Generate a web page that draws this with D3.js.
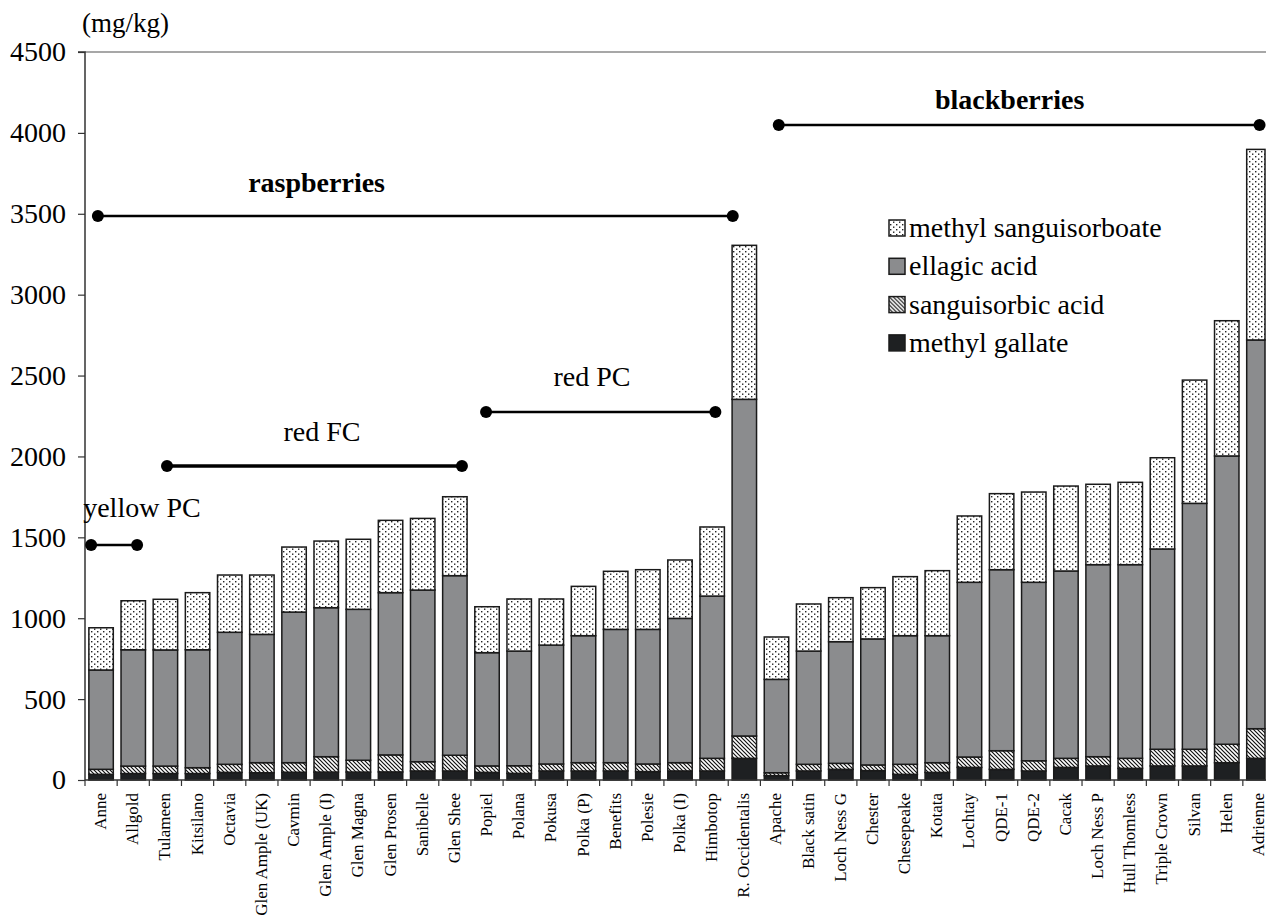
<!DOCTYPE html>
<html>
<head>
<meta charset="utf-8">
<script src="https://cdn.jsdelivr.net/npm/d3@7"></script>
<style>
  html, body { margin: 0; padding: 0; background: #fff; }
  svg { display: block; }
  svg text { font-family: "Liberation Serif", "Times New Roman", serif; }
</style>
</head>
<body>
<svg id="chart" width="1272" height="923"></svg>
<script>
// ---------- data ----------
const categories = ["Anne","Allgold","Tulameen","Kitsilano","Octavia","Glen Ample (UK)","Cavmin","Glen Ample (I)","Glen Magna","Glen Prosen","Sanibelle","Glen Shee","Popiel","Polana","Pokusa","Polka (P)","Benefits","Polesie","Polka (I)","Himbotop","R. Occidentalis","Apache","Black satin","Loch Ness G","Chester","Chesepeake","Kotata","Lochtay","QDE-1","QDE-2","Cacak","Loch Ness P","Hull Thomless","Triple Crown","Silvan","Helen","Adrienne"];

const methylGallate = [35,40,40,40,47,45,48,49,49,50,56,56,47,41,56,56,56,52,56,56,134,27,56,66,58,35,47,78,66,56,78,87,72,87,87,107,134];
const sanguisorbicAcid = [31,46,46,36,50,62,59,95,73,105,57,97,40,47,43,51,51,47,51,78,138,18,41,37,35,62,60,64,115,63,56,57,62,103,103,114,183];
const ellagicAcid = [614,719,718,729,816,793,931,921,933,1003,1061,1110,700,709,735,785,824,832,892,1003,2081,577,700,752,779,795,785,1080,1119,1103,1158,1187,1197,1238,1520,1782,2403];
const methylSanguisorboate = [261,303,313,353,354,367,402,412,433,447,443,488,284,322,285,305,359,369,361,427,952,262,291,272,317,365,402,410,470,558,525,497,509,564,762,836,1178];

const seriesNames = ["methyl gallate","sanguisorbic acid","ellagic acid","methyl sanguisorboate"];
const yTicks = [0,500,1000,1500,2000,2500,3000,3500,4000,4500];

// group annotations: from/to in category-index units, level & labelLevel in mg/kg
const groupLabels = ["raspberries","blackberries","red PC","red FC","yellow PC"];
const groupFrom   = [-0.1, 21.07, 11.97, 2.05, -0.31];
const groupTo     = [19.64, 36.02, 19.1, 11.22, 1.12];
const groupLevel  = [3486, 4049, 2275, 1941, 1453];
const groupLabelX = [6.7, 28.25, 15.26, 6.87, 1.27];
const groupLabelLevel = [3634, 4148, 2435, 2095, 1626];
const groupBold   = [true, true, false, false, false];

// ---------- layout ----------
const FONT = "Liberation Serif, Times New Roman, serif";
const svg = d3.select("#chart");
const mLeft = 85, plotRight = 1266, fullRight = 1275, mTop = 52, mBottom = 780;

const x = d3.scaleBand().domain(categories).range([mLeft, fullRight]).paddingInner(0.24).paddingOuter(0.12);
const xi = d3.scaleLinear().domain([-0.5, categories.length - 0.5]).range([mLeft, fullRight]);
const y = d3.scaleLinear().domain([0, 4500]).range([mBottom, mTop]);

// patterns
const defs = svg.append("defs");
const dots = defs.append("pattern").attr("id","dots").attr("patternUnits","userSpaceOnUse").attr("width",6).attr("height",5);
dots.append("rect").attr("width",6).attr("height",5).attr("fill","#fff");
dots.append("rect").attr("x",1).attr("y",1).attr("width",1.4).attr("height",1.4).attr("fill","#222");
dots.append("rect").attr("x",4).attr("y",3.5).attr("width",1.4).attr("height",1.4).attr("fill","#222");

const hatch = defs.append("pattern").attr("id","hatch").attr("patternUnits","userSpaceOnUse").attr("width",4).attr("height",4);
hatch.append("rect").attr("width",4).attr("height",4).attr("fill","#fff");
hatch.append("path").attr("d","M0,0 L4,4 M-1,3 L1,5 M3,-1 L5,1").attr("stroke","#111").attr("stroke-width",1.2);

const fills = {
  "methyl gallate": "#1e2022",
  "sanguisorbic acid": "url(#hatch)",
  "ellagic acid": "#8b8c8e",
  "methyl sanguisorboate": "url(#dots)"
};

// stacked data
const table = categories.map((c, i) => ({
  cat: c,
  "methyl gallate": methylGallate[i],
  "sanguisorbic acid": sanguisorbicAcid[i],
  "ellagic acid": ellagicAcid[i],
  "methyl sanguisorboate": methylSanguisorboate[i]
}));
const stacked = d3.stack().keys(seriesNames)(table);

// top border line of plot area
svg.append("line").attr("x1", mLeft).attr("x2", plotRight).attr("y1", y(4500)).attr("y2", y(4500))
  .attr("stroke", "#8a8a8a").attr("stroke-width", 1.5);

// bars
const g = svg.append("g");
stacked.forEach(layer => {
  g.selectAll(null).data(layer).enter().append("rect")
    .attr("x", d => x(d.data.cat))
    .attr("width", d => Math.min(x(d.data.cat) + x.bandwidth(), plotRight - 1) - x(d.data.cat))
    .attr("y", d => y(d[1]))
    .attr("height", d => y(d[0]) - y(d[1]))
    .attr("fill", fills[layer.key])
    .attr("stroke", "#1a1a1a")
    .attr("stroke-width", 1.5);
});

// y axis
const yAxis = d3.axisLeft(y).tickValues(yTicks).tickSize(7).tickPadding(12).tickFormat(d3.format("d"));
const ya = svg.append("g").attr("transform", `translate(${mLeft},0)`).call(yAxis)
  .attr("font-family", FONT).attr("font-size", 28);
ya.select(".domain").attr("stroke", "#333").attr("stroke-width", 1.5).attr("d", `M-7,${mTop}H0V${mBottom}`);
ya.selectAll(".tick line").attr("stroke", "#333").attr("stroke-width", 1.2);
ya.selectAll(".tick text").attr("font-size", 28).attr("fill", "#000").attr("font-family", FONT);

// x axis
const xa = svg.append("g").attr("font-family", FONT);
xa.append("line").attr("x1", mLeft).attr("x2", plotRight).attr("y1", mBottom).attr("y2", mBottom)
  .attr("stroke", "#333").attr("stroke-width", 1.5);
const boundaries = d3.range(0, categories.length).map(i => xi(i - 0.5));
xa.selectAll(null).data(boundaries).enter().append("line")
  .attr("x1", d => d).attr("x2", d => d).attr("y1", mBottom).attr("y2", mBottom + 6)
  .attr("stroke", "#333").attr("stroke-width", 1.2);
xa.selectAll(null).data(categories).enter().append("text")
  .attr("transform", d => `translate(${x(d) + x.bandwidth() / 2 + 5},${mBottom + 13}) rotate(-90)`)
  .attr("text-anchor", "end")
  .attr("font-size", 17)
  .attr("font-family", FONT)
  .attr("fill", "#000")
  .text(d => d);

// unit label
svg.append("text").attr("x", 82).attr("y", 32).attr("font-size", 27).attr("font-family", FONT).attr("fill", "#000").text("(mg/kg)");

// group annotations
groupLabels.forEach((lab, i) => {
  const x1 = xi(groupFrom[i]), x2 = xi(groupTo[i]), yy = y(groupLevel[i]);
  svg.append("line").attr("x1", x1).attr("x2", x2).attr("y1", yy).attr("y2", yy)
    .attr("stroke", "#000").attr("stroke-width", lab === "red FC" ? 3.5 : 2.5);
  [x1, x2].forEach(cx => svg.append("circle").attr("cx", cx).attr("cy", yy).attr("r", 6).attr("fill", "#000"));
  svg.append("text").attr("x", xi(groupLabelX[i])).attr("y", y(groupLabelLevel[i]))
    .attr("text-anchor", "middle").attr("font-size", 28).attr("font-family", FONT)
    .attr("font-weight", groupBold[i] ? "bold" : "normal")
    .attr("fill", "#000").text(lab);
});

// legend
const legendOrder = ["methyl sanguisorboate","ellagic acid","sanguisorbic acid","methyl gallate"];
const lg = svg.append("g").attr("transform", "translate(889,228)");
legendOrder.forEach((name, i) => {
  const row = lg.append("g").attr("transform", `translate(0,${i * 38.3})`);
  row.append("rect").attr("x", 0).attr("y", -8).attr("width", 16).attr("height", 16)
    .attr("fill", fills[name]).attr("stroke", "#1a1a1a").attr("stroke-width", 1.5);
  row.append("text").attr("x", 20).attr("y", 9).attr("font-size", 28).attr("font-family", FONT).attr("fill", "#000").text(name);
});
</script>
</body>
</html>
